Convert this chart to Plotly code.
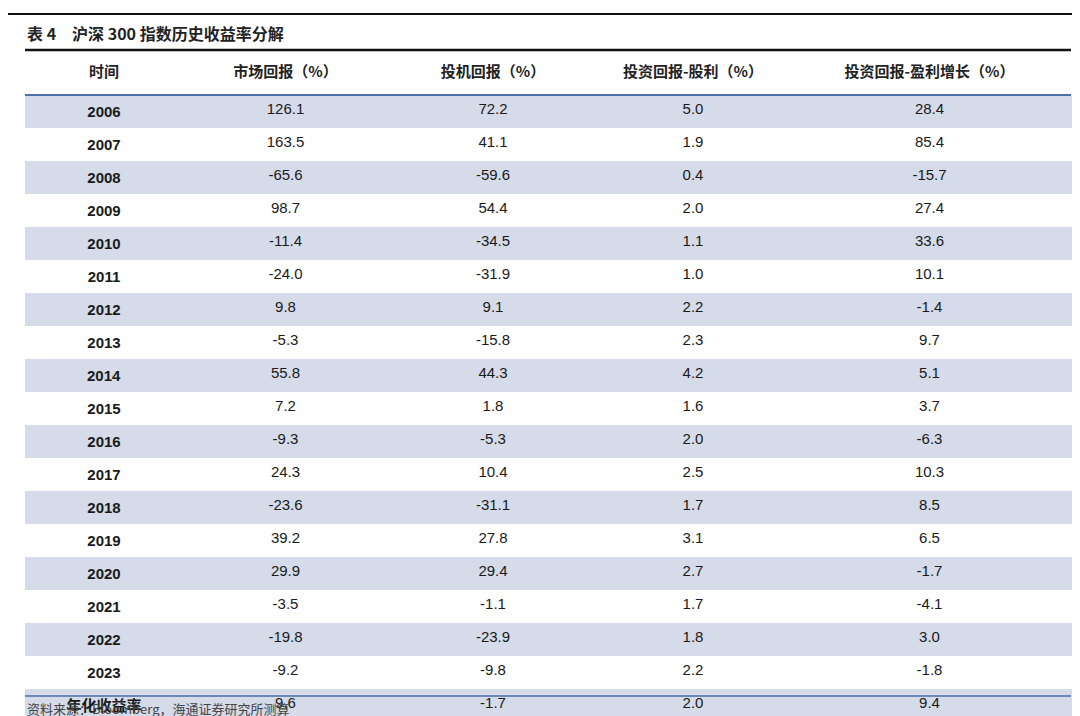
import plotly.graph_objects as go

headers = ["时间", "市场回报（%）", "投机回报（%）", "投资回报-股利（%）", "投资回报-盈利增长（%）"]
years = ["2006","2007","2008","2009","2010","2011","2012","2013","2014","2015","2016","2017","2018","2019","2020","2021","2022","2023","年化收益率"]
market = [126.1,163.5,-65.6,98.7,-11.4,-24.0,9.8,-5.3,55.8,7.2,-9.3,24.3,-23.6,39.2,29.9,-3.5,-19.8,-9.2,9.6]
spec = [72.2,41.1,-59.6,54.4,-34.5,-31.9,9.1,-15.8,44.3,1.8,-5.3,10.4,-31.1,27.8,29.4,-1.1,-23.9,-9.8,-1.7]
divid = [5.0,1.9,0.4,2.0,1.1,1.0,2.2,2.3,4.2,1.6,2.0,2.5,1.7,3.1,2.7,1.7,1.8,2.2,2.0]
growth = [28.4,85.4,-15.7,27.4,33.6,10.1,-1.4,9.7,5.1,3.7,-6.3,10.3,8.5,6.5,-1.7,-4.1,3.0,-1.8,9.4]

W, H = 1080, 716
shade = "#d5dbe9"
fills = [shade if i % 2 == 0 else "white" for i in range(len(years))]
fmt = lambda a: [f"{v:.1f}" for v in a]

fig = go.Figure(go.Table(
    domain=dict(x=[17/W, 1063/W], y=[0, 1-44/H]),
    columnwidth=[158, 205, 210, 190, 283],
    header=dict(values=[f"<b>{h}</b>" for h in headers], height=43, fill_color="white",
                line_color="white", align="center",
                font=dict(family="Noto Sans CJK SC", size=15, color="#222")),
    cells=dict(values=[[f"<b>{y}</b>" for y in years], fmt(market), fmt(spec), fmt(divid), fmt(growth)],
               height=31.6, fill_color=[fills]*5, line_color=[fills]*5, align="center",
               font=dict(family="Liberation Sans, Noto Sans CJK SC", size=15, color="#1a1a1a")),
))
fig.update_layout(width=W, height=H, margin=dict(l=0, r=0, t=0, b=0), paper_bgcolor="white",
    shapes=[
        dict(type="line", xref="paper", yref="paper", x0=0, x1=1, y0=1-6/H, y1=1-6/H, line=dict(color="#111", width=2)),
        dict(type="line", xref="paper", yref="paper", x0=17/W, x1=1063/W, y0=1-42/H, y1=1-42/H, line=dict(color="#111", width=2.5)),
        dict(type="line", xref="paper", yref="paper", x0=17/W, x1=1063/W, y0=1-87/H, y1=1-87/H, line=dict(color="#4a6fa5", width=2)),
        dict(type="line", xref="paper", yref="paper", x0=17/W, x1=1063/W, y0=1-688/H, y1=1-688/H, line=dict(color="#4a6fa5", width=1.5)),
    ],
    annotations=[
        dict(text="<b>表 4　沪深 300 指数历史收益率分解</b>", x=17/W, y=1-25/H, xref="paper", yref="paper",
             xanchor="left", yanchor="middle", showarrow=False, font=dict(family="Noto Sans CJK SC", size=16, color="#222")),
        dict(text="资料来源：Bloomberg，海通证券研究所测算", x=17/W, y=1-700/H, xref="paper", yref="paper",
             xanchor="left", yanchor="middle", showarrow=False, font=dict(family="Noto Sans CJK SC", size=13, color="#444")),
    ])
fig.write_html("out.html")
